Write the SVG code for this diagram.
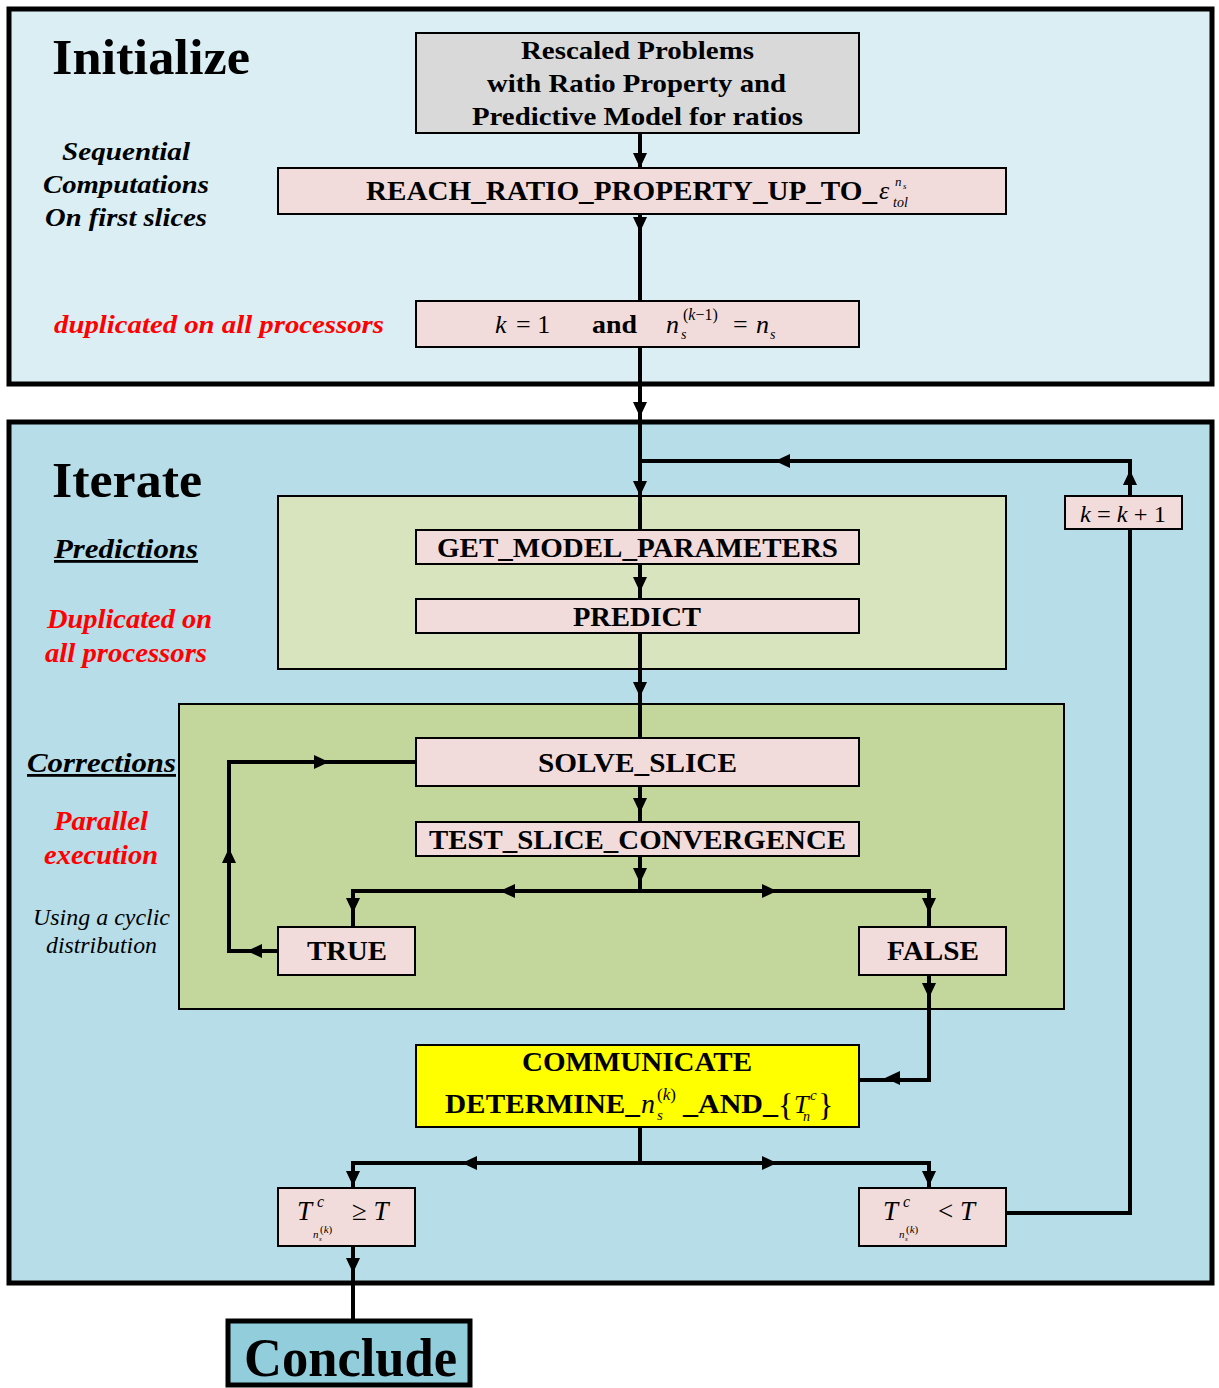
<svg xmlns="http://www.w3.org/2000/svg" xmlns:xlink="http://www.w3.org/1999/xlink" width="1219" height="1388" viewBox="0 0 1219 1388">
<defs>
<style>
.t{font-family:"Liberation Serif","Times New Roman",serif;fill:#000}
.b{font-weight:bold}
.i{font-style:italic}
.red{fill:#ff0000}
.box{fill:#f2dcdb;stroke:#000;stroke-width:2}
.ln{fill:none;stroke:#000;stroke-width:4}
</style>
<polygon id="arr" points="0,0 -7,-15 7,-15" fill="#000"/>
</defs>
<rect width="1219" height="1388" fill="#fff"/>

<g id="panel-initialize">
<rect x="9" y="9" width="1203" height="375" fill="#daeef3" stroke="#000" stroke-width="5"/>
<text class="t b" x="52" y="74" font-size="50" textLength="198" lengthAdjust="spacingAndGlyphs">Initialize</text>
<text class="t b i" x="62" y="160" font-size="26" textLength="128" lengthAdjust="spacingAndGlyphs">Sequential</text>
<text class="t b i" x="43" y="193" font-size="26" textLength="166" lengthAdjust="spacingAndGlyphs">Computations</text>
<text class="t b i" x="45" y="226" font-size="26" textLength="162" lengthAdjust="spacingAndGlyphs">On first slices</text>
<text class="t b i red" x="54" y="333" font-size="26" textLength="330" lengthAdjust="spacingAndGlyphs">duplicated on all processors</text>
</g>

<g id="panel-iterate">
<rect x="9" y="422" width="1203" height="861" fill="#b7dde8" stroke="#000" stroke-width="5"/>
<text class="t b" x="52" y="497" font-size="50" textLength="150" lengthAdjust="spacingAndGlyphs">Iterate</text>
<text class="t b i" x="54" y="558" font-size="28" text-decoration="underline" textLength="144" lengthAdjust="spacingAndGlyphs">Predictions</text>
<text class="t b i red" x="47" y="628" font-size="27" textLength="165" lengthAdjust="spacingAndGlyphs">Duplicated on</text>
<text class="t b i red" x="45" y="662" font-size="27" textLength="162" lengthAdjust="spacingAndGlyphs">all processors</text>
<text class="t b i" x="27" y="772" font-size="28" text-decoration="underline" textLength="149" lengthAdjust="spacingAndGlyphs">Corrections</text>
<text class="t b i red" x="54" y="830" font-size="27" textLength="94" lengthAdjust="spacingAndGlyphs">Parallel</text>
<text class="t b i red" x="44" y="864" font-size="27" textLength="114" lengthAdjust="spacingAndGlyphs">execution</text>
<text class="t i" x="33" y="925" font-size="23" textLength="137" lengthAdjust="spacingAndGlyphs">Using a cyclic</text>
<text class="t i" x="46" y="953" font-size="23" textLength="111" lengthAdjust="spacingAndGlyphs">distribution</text>
</g>

<g id="panel-predictions">
<rect x="278" y="496" width="728" height="173" fill="#d7e4bd" stroke="#000" stroke-width="2"/>
</g>
<g id="panel-corrections">
<rect x="179" y="704" width="885" height="305" fill="#c3d69b" stroke="#000" stroke-width="2"/>
</g>

<g id="connectors">
<path class="ln" d="M640,133 V168"/>
<use xlink:href="#arr" transform="translate(640,168)"/>
<path class="ln" d="M640,214 V301"/>
<use xlink:href="#arr" transform="translate(640,232)"/>
<path class="ln" d="M640,347 V530"/>
<use xlink:href="#arr" transform="translate(640,417)"/>
<use xlink:href="#arr" transform="translate(640,496)"/>
<path class="ln" d="M1006,1213 H1130 V461 H640"/>
<use xlink:href="#arr" transform="translate(1130,470) rotate(180)"/>
<use xlink:href="#arr" transform="translate(775,461) rotate(90)"/>
<path class="ln" d="M640,564 V599"/>
<use xlink:href="#arr" transform="translate(640,592)"/>
<path class="ln" d="M640,633 V738"/>
<use xlink:href="#arr" transform="translate(640,697)"/>
<path class="ln" d="M640,786 V822"/>
<use xlink:href="#arr" transform="translate(640,813)"/>
<path class="ln" d="M640,856 V891"/>
<use xlink:href="#arr" transform="translate(640,883)"/>
<path class="ln" d="M353,927 V891 H929 V927"/>
<use xlink:href="#arr" transform="translate(500,891) rotate(90)"/>
<use xlink:href="#arr" transform="translate(777,891) rotate(-90)"/>
<use xlink:href="#arr" transform="translate(353,913)"/>
<use xlink:href="#arr" transform="translate(929,913)"/>
<path class="ln" d="M278,951 H229 V762 H416"/>
<use xlink:href="#arr" transform="translate(247,951) rotate(90)"/>
<use xlink:href="#arr" transform="translate(229,848) rotate(180)"/>
<use xlink:href="#arr" transform="translate(329,762) rotate(-90)"/>
<path class="ln" d="M929,975 V1080 H859"/>
<use xlink:href="#arr" transform="translate(929,998)"/>
<use xlink:href="#arr" transform="translate(885,1078) rotate(90)"/>
<path class="ln" d="M640,1127 V1163"/>
<path class="ln" d="M353,1188 V1163 H929 V1188"/>
<use xlink:href="#arr" transform="translate(462,1163) rotate(90)"/>
<use xlink:href="#arr" transform="translate(777,1163) rotate(-90)"/>
<use xlink:href="#arr" transform="translate(353,1186)"/>
<use xlink:href="#arr" transform="translate(929,1186)"/>
<path class="ln" d="M353,1246 V1321"/>
<use xlink:href="#arr" transform="translate(353,1273)"/>
</g>

<g id="node-rescaled">
<rect x="416" y="33" width="443" height="100" fill="#d9d9d9" stroke="#000" stroke-width="2"/>
<text class="t b" x="521" y="59" font-size="26" textLength="233" lengthAdjust="spacingAndGlyphs">Rescaled Problems</text>
<text class="t b" x="487" y="92" font-size="26" textLength="299" lengthAdjust="spacingAndGlyphs">with Ratio Property and</text>
<text class="t b" x="472" y="125" font-size="26" textLength="331" lengthAdjust="spacingAndGlyphs">Predictive Model for ratios</text>
</g>

<g id="node-reach">
<rect class="box" x="278" y="168" width="728" height="46"/>
<text class="t b" x="366" y="200" font-size="27" textLength="511" lengthAdjust="spacingAndGlyphs">REACH_RATIO_PROPERTY_UP_TO_</text>
<text class="t i" x="879" y="199" font-size="26">ε</text>
<text class="t i" x="895" y="186" font-size="13">n</text>
<text class="t i" x="903" y="189" font-size="9">s</text>
<text class="t i" x="893" y="207" font-size="14">tol</text>
</g>

<g id="node-k1">
<rect class="box" x="416" y="301" width="443" height="46"/>
<text class="t i" x="495" y="333" font-size="26">k</text>
<text class="t" x="516" y="333" font-size="26">= 1</text>
<text class="t b" x="592" y="333" font-size="26" textLength="45" lengthAdjust="spacingAndGlyphs">and</text>
<text class="t i" x="666" y="333" font-size="26">n</text>
<text class="t" x="683" y="320" font-size="16">(<tspan class="i">k</tspan>−1)</text>
<text class="t i" x="681" y="339" font-size="14">s</text>
<text class="t" x="733" y="333" font-size="26">=</text>
<text class="t i" x="756" y="333" font-size="26">n</text>
<text class="t i" x="770" y="339" font-size="14">s</text>
</g>

<g id="node-get-model">
<rect class="box" x="416" y="530" width="443" height="34"/>
<text class="t b" x="437" y="557" font-size="27" textLength="401" lengthAdjust="spacingAndGlyphs">GET_MODEL_PARAMETERS</text>
</g>

<g id="node-predict">
<rect class="box" x="416" y="599" width="443" height="34"/>
<text class="t b" x="573" y="626" font-size="27" textLength="128" lengthAdjust="spacingAndGlyphs">PREDICT</text>
</g>

<g id="node-solve">
<rect class="box" x="416" y="738" width="443" height="48"/>
<text class="t b" x="538" y="772" font-size="27" textLength="199" lengthAdjust="spacingAndGlyphs">SOLVE_SLICE</text>
</g>

<g id="node-test">
<rect class="box" x="416" y="822" width="443" height="34"/>
<text class="t b" x="429" y="849" font-size="27" textLength="417" lengthAdjust="spacingAndGlyphs">TEST_SLICE_CONVERGENCE</text>
</g>

<g id="node-true">
<rect class="box" x="278" y="927" width="137" height="48"/>
<text class="t b" x="307" y="960" font-size="27" textLength="80" lengthAdjust="spacingAndGlyphs">TRUE</text>
</g>

<g id="node-false">
<rect class="box" x="859" y="927" width="147" height="48"/>
<text class="t b" x="887" y="960" font-size="27" textLength="92" lengthAdjust="spacingAndGlyphs">FALSE</text>
</g>

<g id="node-communicate">
<rect x="416" y="1045" width="443" height="82" fill="#ffff00" stroke="#000" stroke-width="2"/>
<text class="t b" x="522" y="1071" font-size="27" textLength="230" lengthAdjust="spacingAndGlyphs">COMMUNICATE</text>
<text class="t b" x="445" y="1113" font-size="27" textLength="195" lengthAdjust="spacingAndGlyphs">DETERMINE_</text>
<text class="t i" x="641" y="1113" font-size="28">n</text>
<text class="t" x="657" y="1100" font-size="17">(<tspan class="i">k</tspan>)</text>
<text class="t i" x="657" y="1120" font-size="15">s</text>
<text class="t b" x="683" y="1113" font-size="27" textLength="95" lengthAdjust="spacingAndGlyphs">_AND_</text>
<text class="t" x="778" y="1116" font-size="32">{</text>
<text class="t i" x="794" y="1113" font-size="26">T</text>
<text class="t i" x="810" y="1100" font-size="15">c</text>
<text class="t i" x="803" y="1121" font-size="14">n</text>
<text class="t" x="818" y="1116" font-size="32">}</text>
</g>

<g id="node-tge">
<rect class="box" x="278" y="1188" width="137" height="58"/>
<text class="t i" x="297" y="1220" font-size="27">T</text>
<text class="t i" x="317" y="1207" font-size="16">c</text>
<text class="t i" x="313" y="1238" font-size="11">n</text>
<text class="t i" x="319" y="1241" font-size="7">s</text>
<text class="t" x="320" y="1233" font-size="11">(<tspan class="i">k</tspan>)</text>
<text class="t" x="352" y="1220" font-size="27">≥ <tspan class="i">T</tspan></text>
</g>

<g id="node-tlt">
<rect class="box" x="859" y="1188" width="147" height="58"/>
<text class="t i" x="883" y="1220" font-size="27">T</text>
<text class="t i" x="903" y="1207" font-size="16">c</text>
<text class="t i" x="899" y="1238" font-size="11">n</text>
<text class="t i" x="905" y="1241" font-size="7">s</text>
<text class="t" x="906" y="1233" font-size="11">(<tspan class="i">k</tspan>)</text>
<text class="t" x="938" y="1220" font-size="27">&lt; <tspan class="i">T</tspan></text>
</g>

<g id="node-kinc">
<rect class="box" x="1065" y="496" width="117" height="33"/>
<text class="t" x="1080" y="522" font-size="23" textLength="86" lengthAdjust="spacingAndGlyphs"><tspan class="i">k</tspan> = <tspan class="i">k</tspan> + 1</text>
</g>

<g id="node-conclude">
<rect x="228" y="1321" width="242" height="64" fill="#92cddc" stroke="#000" stroke-width="5"/>
<text class="t b" x="244" y="1376" font-size="54" textLength="213" lengthAdjust="spacingAndGlyphs">Conclude</text>
</g>
</svg>
